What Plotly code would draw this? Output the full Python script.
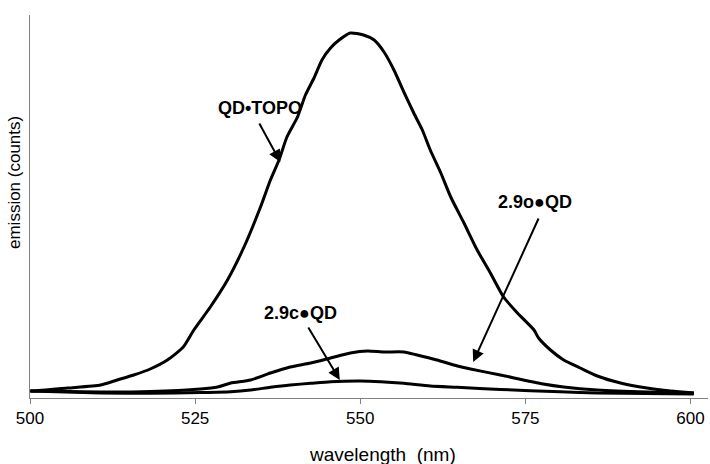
import plotly.graph_objects as go

# Wavelengths (nm) and emission (counts)
topo_wl = [500.0, 500.5, 505.7, 510.7, 513.2, 515.7, 518.2, 520.8, 523.2, 524.8,
           527.3, 529.9, 532.4, 534.9, 536.4, 537.7, 538.9, 540.5, 541.7, 543.0,
           544.2, 545.5, 546.8, 548.5, 550.5, 552.1, 553.6, 555.1, 556.6, 558.1,
           559.4, 560.6, 562.2, 563.7, 565.7, 567.7, 569.7, 571.7, 573.8, 576.3,
           577.0, 578.8, 580.8, 583.3, 585.9, 589.4, 593.4, 597.0, 600.5]
topo_counts = [700, 700, 1000, 1300, 1800, 2300, 2900, 3800, 5100, 6800,
               9100, 11800, 15100, 19100, 21800, 23800, 26100, 28100, 30300, 32000,
               33800, 35000, 35800, 36500, 36300, 35800, 34600, 32800, 30600, 28500,
               26800, 24800, 22500, 20100, 17500, 14800, 12500, 10100, 8500, 6800,
               6000, 4800, 3800, 3000, 2200, 1500, 1000, 700, 500]

o_wl = [500.1, 510.7, 518.2, 525.8, 528.4, 530.4, 533.4, 536.4, 539.4, 542.5,
        545.5, 548.5, 551.1, 553.6, 556.6, 558.6, 561.6, 564.7, 566.7, 571.2,
        577.7, 580.8, 585.9, 593.5, 600.5]
o_counts = [700, 600, 650, 900, 1100, 1500, 1800, 2500, 3100, 3500,
            4000, 4500, 4700, 4600, 4600, 4300, 3800, 3200, 2900, 2300,
            1400, 1100, 800, 600, 500]

c_wl = [500.1, 510.7, 518.2, 525.8, 530.4, 533.4, 536.4, 539.4, 542.5, 545.5,
        550.0, 553.1, 556.6, 560.6, 564.7, 571.2, 580.3, 585.9, 600.5]
c_counts = [700, 500, 470, 550, 630, 800, 1070, 1300, 1470, 1630,
            1700, 1630, 1470, 1200, 1070, 850, 630, 500, 400]

x_ticks = [500, 525, 550, 575, 600]

FONT = "Liberation Sans, Arial, sans-serif"

fig = go.Figure()
for wl, cnt, name in [(topo_wl, topo_counts, "QD•TOPO"),
                      (o_wl, o_counts, "2.9o●QD"),
                      (c_wl, c_counts, "2.9c●QD")]:
    fig.add_trace(go.Scatter(x=wl, y=cnt, mode="lines", name=name,
                             line=dict(color="black", width=3, shape="spline", smoothing=0.6),
                             showlegend=False))

# Labels and arrows
labels = [
    dict(text="<b>QD•TOPO</b>", x=534.75, y=29000,
         tail=(534.6, 27600), head=(537.9, 23600)),
    dict(text="<b>2.9o●QD</b>", x=576.5, y=19600,
         tail=(577.1, 18100), head=(567.1, 3600)),
    dict(text="<b>2.9c●QD</b>", x=540.95, y=8500,
         tail=(542.0, 7200), head=(546.9, 1800)),
]
for lab in labels:
    fig.add_annotation(x=lab["x"], y=lab["y"], xref="x", yref="y", text=lab["text"],
                       showarrow=False, font=dict(family=FONT, size=18, color="black"))
    fig.add_annotation(x=lab["head"][0], y=lab["head"][1], ax=lab["tail"][0], ay=lab["tail"][1],
                       xref="x", yref="y", axref="x", ayref="y", text="",
                       showarrow=True, arrowhead=2, arrowsize=1.2, arrowwidth=2,
                       arrowcolor="black")

# Axis titles
fig.add_annotation(x=553.4, y=0, xref="x", yref="paper", yshift=-56,
                   text="wavelength\u00a0\u00a0(nm)", showarrow=False,
                   yanchor="middle", font=dict(family=FONT, size=19, color="black"))
fig.add_annotation(x=0, y=21500, xref="paper", yref="y", xshift=-16,
                   text="emission (counts)", textangle=-90, showarrow=False,
                   xanchor="center", font=dict(family=FONT, size=17, color="black"))

fig.update_layout(
    width=710, height=464,
    margin=dict(l=30, r=2, t=15, b=66, autoexpand=False),
    paper_bgcolor="white", plot_bgcolor="white",
    font=dict(family=FONT, size=16, color="black"),
)
fig.update_xaxes(range=[500, 602.65], tickvals=x_ticks, ticks="outside", ticklen=5,
                 tickcolor="#808080", showline=True, linecolor="#808080", linewidth=1,
                 showgrid=False, zeroline=False, automargin=False,
                 tickfont=dict(family=FONT, size=17, color="black"))
fig.update_yaxes(range=[0, 38300], showticklabels=False, ticks="", showline=True,
                 linecolor="#808080", linewidth=1, showgrid=False, zeroline=False,
                 automargin=False)

fig.write_html("out.html", config={"displayModeBar": False},
               post_script="document.body.style.margin='0';document.body.style.overflow='hidden';")
